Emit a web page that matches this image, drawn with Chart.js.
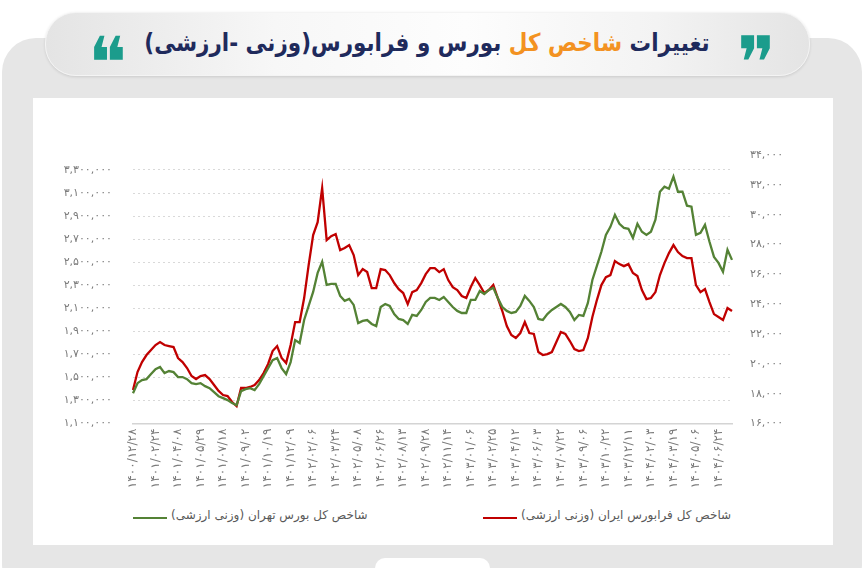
<!DOCTYPE html>
<html lang="fa">
<head>
<meta charset="utf-8">
<script src="https://cdn.jsdelivr.net/npm/chart.js@4.4.1/dist/chart.umd.min.js"></script>
<style>
  html, body { margin: 0; padding: 0; }
  body { width: 866px; height: 568px; overflow: hidden; background: #fff; position: relative; font-family: 'DejaVu Sans', sans-serif; }
  .back { position: absolute; left: 2px; top: 38px; width: 860px; height: 560px; background: #e6e6e6; border-radius: 34px; }
  .banner { position: absolute; left: 45px; top: 12px; width: 763px; height: 62px; border-radius: 31px;
    background: linear-gradient(90deg, #e4e4e4 0%, #f7f7f7 30%, #fdfdfd 55%, #f3f3f3 80%, #e4e4e4 100%);
    box-shadow: 0 1px 3px rgba(0,0,0,0.12); border: 1px solid #f4f4f4; }
  .title { position: absolute; left: 0; width: 854px; top: 30px; text-align: center; direction: rtl;
    font-size: 21.5px; font-weight: bold; color: #1f2a5c; white-space: nowrap; transform: scale(1, 1.15); }
  .title .hl { color: #f39221; }
  .quote { position: absolute; top: 27px; font-family: 'DejaVu Sans', sans-serif; font-size: 72px; color: #1b9c8c; line-height: 72px; }
  .panel { position: absolute; left: 33px; top: 98px; width: 800px; height: 447px; background: #fff; }
  #chart { position: absolute; left: 33px; top: 98px; }
  .legend { position: absolute; top: 508px; font-size: 12px; color: #595959; direction: rtl; white-space: nowrap; }
  .legline { position: absolute; top: 517px; width: 34px; height: 2px; }
  .bump { position: absolute; left: 375px; top: 558px; width: 115px; height: 20px; background: #fff; border-radius: 12px; }
</style>
</head>
<body>
<div class="back"></div>
<div class="banner"></div>
<div class="quote" style="left: 737px;">&#10078;</div>
<div class="quote" style="left: 88px;">&#10077;</div>
<div class="title">تغییرات <span class="hl">شاخص کل</span> بورس و فرابورس(وزنی -ارزشی)</div>
<div class="panel"></div>
<canvas id="chart" width="800" height="400"></canvas>
<div id="legend"></div>
<div class="bump"></div>
<script>
// tick labels on the x axis (every 5th point)
const dates = [
  '۱۴۰۰/۱۲/۲۸', '۱۴۰۱/۰۲/۲۴', '۱۴۰۱/۰۴/۰۸', '۱۴۰۱/۰۵/۲۹', '۱۴۰۱/۰۷/۱۸', '۱۴۰۱/۰۹/۰۲',
  '۱۴۰۱/۱۰/۱۹', '۱۴۰۱/۱۲/۰۹', '۱۴۰۲/۰۲/۰۶', '۱۴۰۲/۰۳/۲۴', '۱۴۰۲/۰۵/۰۸', '۱۴۰۲/۰۶/۲۶',
  '۱۴۰۲/۰۸/۱۳', '۱۴۰۲/۰۹/۲۸', '۱۴۰۲/۱۱/۱۴', '۱۴۰۳/۰۱/۰۶', '۱۴۰۳/۰۲/۲۵', '۱۴۰۳/۰۴/۱۲',
  '۱۴۰۳/۰۶/۰۳', '۱۴۰۳/۰۷/۲۲', '۱۴۰۳/۰۹/۰۶', '۱۴۰۳/۱۰/۲۲', '۱۴۰۳/۱۲/۱۱', '۱۴۰۴/۰۲/۰۳',
  '۱۴۰۴/۰۳/۱۹', '۱۴۰۴/۰۵/۰۶', '۱۴۰۴/۰۶/۲۴'
];
const pointsPerLabel = 5;

// شاخص کل بورس تهران (left axis)
const tehranIndex = [
  1363000, 1450000, 1477000, 1485000, 1529000, 1572000, 1590000, 1537000, 1555000, 1546000,
  1503000, 1503000, 1485000, 1450000, 1442000, 1450000, 1424000, 1407000, 1372000, 1337000,
  1320000, 1303000, 1277000, 1259000, 1381000, 1398000, 1407000, 1390000, 1442000, 1511000,
  1581000, 1650000, 1668000, 1581000, 1529000, 1633000, 1824000, 1798000, 1998000, 2120000,
  2242000, 2407000, 2503000, 2303000, 2311000, 2311000, 2207000, 2164000, 2181000, 2129000,
  1972000, 1990000, 1998000, 1964000, 1946000, 2111000, 2137000, 2120000, 2050000, 2007000,
  1998000, 1964000, 2042000, 2033000, 2085000, 2155000, 2190000, 2190000, 2172000, 2198000,
  2155000, 2111000, 2077000, 2059000, 2059000, 2172000, 2172000, 2250000, 2224000, 2259000,
  2277000, 2190000, 2111000, 2077000, 2059000, 2068000, 2120000, 2207000, 2164000, 2111000,
  2007000, 1998000, 2050000, 2085000, 2111000, 2137000, 2111000, 2068000, 1998000, 2042000,
  2033000, 2146000, 2346000, 2468000, 2590000, 2737000, 2807000, 2911000, 2833000, 2798000,
  2790000, 2711000, 2833000, 2764000, 2737000, 2764000, 2868000, 3111000, 3155000, 3137000,
  3242000, 3111000, 3111000, 2990000, 2981000, 2737000, 2755000, 2824000, 2677000, 2546000,
  2494000, 2416000, 2607000, 2520000
];

// شاخص کل فرابورس ایران (right axis)
const faraIndex = [
  18245, 19450, 20120, 20590, 20925, 21260, 21460, 21260, 21190, 21125,
  20390, 20120, 19720, 19180, 18980, 19180, 19250, 18980, 18580, 18180,
  17910, 17840, 17440, 17170, 18380, 18380, 18450, 18580, 18915, 19380,
  19990, 20860, 21190, 20390, 20050, 21260, 22800, 22800, 24410, 26620,
  28630, 29500, 31780, 28295, 28560, 28700, 27625, 27760, 27960, 27290,
  25950, 26350, 26150, 25080, 25080, 26350, 26285, 25950, 25415, 25010,
  24745, 24005, 24810, 24945, 25415, 26015, 26420, 26420, 26150, 26350,
  25615, 25145, 24945, 24545, 24410, 25145, 25750, 25280, 24745, 24945,
  25280, 24410, 23540, 22535, 21930, 21730, 22065, 22800, 22065, 22000,
  20790, 20590, 20655, 20790, 21460, 22130, 22000, 21530, 20990, 20860,
  20925, 21730, 23135, 24275, 25280, 25815, 25950, 26890, 26685, 26550,
  26685, 26085, 25885, 24945, 24340, 24410, 24810, 25950, 26755, 27425,
  27960, 27490, 27220, 27090, 27090, 25280, 24810, 25010, 24140, 23335,
  23135, 22935, 23740, 23540
];

const leftTicks = [1100000, 1300000, 1500000, 1700000, 1900000, 2100000, 2300000, 2500000, 2700000, 2900000, 3100000, 3300000];
const rightTicks = [16000, 18000, 20000, 22000, 24000, 26000, 28000, 30000, 32000, 34000];

const seriesNames = ['شاخص کل بورس تهران (وزنی ارزشی)', 'شاخص کل فرابورس ایران (وزنی ارزشی)'];
const seriesColors = ['#548235', '#c00000'];

const faDigits = '۰۱۲۳۴۵۶۷۸۹';
const toFa = (s) => String(s).replace(/[0-9]/g, d => faDigits[d]);

const labels = tehranIndex.map((v, i) => i % pointsPerLabel === 0 ? (dates[i / pointsPerLabel] || '') : '');

const tickFont = { family: 'DejaVu Sans', size: 11 };
const tickColor = '#7a7a7a';

const chart = new Chart(document.getElementById('chart').getContext('2d'), {
  type: 'line',
  data: {
    labels: labels,
    datasets: [
      { label: seriesNames[0], data: tehranIndex, yAxisID: 'yLeft', borderColor: seriesColors[0], borderWidth: 2.3, pointRadius: 0, tension: 0 },
      { label: seriesNames[1], data: faraIndex, yAxisID: 'yRight', borderColor: seriesColors[1], borderWidth: 2.3, pointRadius: 0, tension: 0 }
    ]
  },
  options: {
    responsive: false,
    animation: false,
    layout: { padding: { top: 57, left: 0, right: 0, bottom: 0 } },
    plugins: { legend: { display: false }, tooltip: { enabled: false } },
    scales: {
      x: {
        grid: { display: false, drawTicks: false },
        border: { display: true, color: '#d4d4d4', width: 1.5 },
        ticks: { autoSkip: false, minRotation: 90, maxRotation: 90, padding: 5, font: { family: 'DejaVu Sans', size: 12 }, color: tickColor },
        afterFit: (scale) => { scale.height = 74.5; }
      },
      yLeft: {
        position: 'left',
        min: 1100000,
        max: 3430000,
        afterBuildTicks: (scale) => { scale.ticks = leftTicks.map(v => ({ value: v })); },
        grid: { color: '#d9d9d9', lineWidth: 1, drawTicks: false },
        border: { display: false, dash: [2, 3] },
        ticks: { padding: 21, font: tickFont, color: tickColor, callback: (v) => toFa(Number(v).toLocaleString('en-US')) },
        afterFit: (scale) => { scale.width = 100; }
      },
      yRight: {
        position: 'right',
        min: 16000,
        max: 34000,
        afterBuildTicks: (scale) => { scale.ticks = rightTicks.map(v => ({ value: v })); },
        grid: { display: false, drawTicks: false },
        border: { display: false },
        ticks: { padding: 18, font: tickFont, color: tickColor, callback: (v) => toFa(Number(v).toLocaleString('en-US')) },
        afterFit: (scale) => { scale.width = 101; }
      }
    }
  }
});

// legend drawn as html below the canvas, from the chart's datasets
const legendBox = document.getElementById('legend');
const legendLeft = [133, 483];
chart.data.datasets.forEach((ds, i) => {
  const item = document.createElement('div');
  item.className = 'legend';
  item.style.left = (legendLeft[i] + 38) + 'px';
  item.textContent = ds.label;
  legendBox.appendChild(item);
  const line = document.createElement('div');
  line.className = 'legline';
  line.style.left = legendLeft[i] + 'px';
  line.style.background = ds.borderColor;
  legendBox.appendChild(line);
});
</script>
</body>
</html>
